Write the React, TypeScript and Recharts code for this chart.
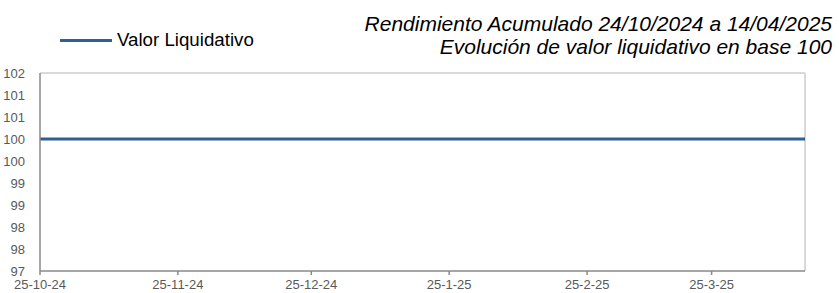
import { LineChart, Line, XAxis, YAxis, ReferenceLine } from "recharts"

// days since 24/10/2024
const dias = [0, 31, 61, 92, 123, 151, 172]
const valorLiquidativo = [100, 100, 100, 100, 100, 100, 100]

const xTicks = [0, 31, 61, 92, 123, 151]
const xTickLabels = ["25-10-24", "25-11-24", "25-12-24", "25-1-25", "25-2-25", "25-3-25"]
const yTicks = [97, 97.5, 98, 98.5, 99, 99.5, 100, 100.5, 101, 101.5]

const data = dias.map((d, i) => ({ dia: d, valor: valorLiquidativo[i] }))

const FONT = "'Liberation Sans', Arial, sans-serif"

export default function App() {
    return (
        <div style={{ position: "absolute", left: 0, top: 0, width: 839, height: 293, fontFamily: FONT, background: "#fff" }}>
            <div style={{ position: "absolute", right: 7, top: 12, textAlign: "right", fontStyle: "italic", fontSize: 21, lineHeight: "23px", color: "#000", whiteSpace: "nowrap" }}>
                <div>Rendimiento Acumulado 24/10/2024 a 14/04/2025</div>
                <div>Evolución de valor liquidativo en base 100</div>
            </div>
            <div style={{ position: "absolute", left: 60, top: 29, display: "flex", alignItems: "center", fontSize: 18.7, color: "#000", whiteSpace: "nowrap" }}>
                <span style={{ display: "inline-block", width: 52, height: 3, background: "#2f5f93", marginRight: 5 }} />
                <span>Valor Liquidativo</span>
            </div>
            <LineChart
                width={839}
                height={293}
                data={data}
                margin={{ top: 73, right: 34, bottom: 0, left: 0 }}
                style={{ position: "absolute", left: 0, top: 0 }}
            >
                <ReferenceLine y={101.5} stroke="#d9d9d9" strokeWidth={2} />
                <ReferenceLine x={172} stroke="#d9d9d9" strokeWidth={2} />
                <XAxis
                    dataKey="dia"
                    type="number"
                    domain={[0, 172]}
                    ticks={xTicks}
                    tickFormatter={(v) => xTickLabels[xTicks.indexOf(v)] ?? ""}
                    height={22}
                    stroke="#898989"
                    strokeWidth={1.5}
                    tickSize={4}
                    tick={{ fill: "#595959", fontSize: 13, fontFamily: FONT }}
                    tickMargin={5}
                    interval={0}
                />
                <YAxis
                    type="number"
                    domain={[97, 101.5]}
                    ticks={yTicks}
                    tickFormatter={(v) => String(Math.round(v))}
                    width={40}
                    stroke="#898989"
                    strokeWidth={1.5}
                    tickLine={false}
                    tick={{ fill: "#595959", fontSize: 13, fontFamily: FONT }}
                    tickMargin={9}
                    interval={0}
                />
                <Line
                    dataKey="valor"
                    stroke="#2f5f93"
                    strokeWidth={3}
                    dot={false}
                    isAnimationActive={false}
                />
            </LineChart>
        </div>
    )
}
